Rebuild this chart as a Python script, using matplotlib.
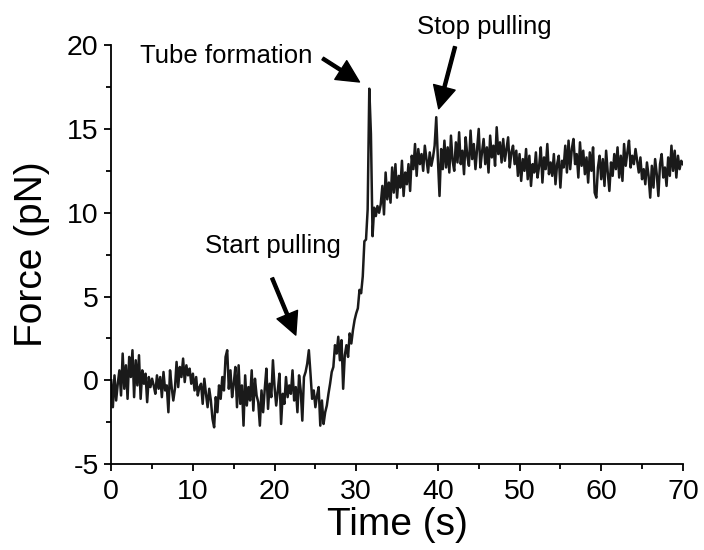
import numpy as np
import matplotlib.pyplot as plt
from matplotlib.ticker import MultipleLocator

plt.rcParams['font.family'] = ['Liberation Sans', 'DejaVu Sans']
plt.rcParams['axes.unicode_minus'] = False

# Force trace, one sample every 0.2 s from 0 to 70 s
dt = 0.2
force = [
    0.0, -1.6, 0.3, -1.2, -0.2, 0.6, -0.9, 1.6, -0.5, 0.9,
    -1.1, 1.4, 0.2, 1.8, -1.0, 1.2, -0.3, 1.5, -1.1, 0.6,
    -0.2, 0.4, -1.3, 0.2, -0.4, 0.1, -0.3, -0.8, 0.3, -0.5,
    0.2, -1.0, 0.5, -0.6, -0.3, -1.9, 0.6, -0.4, -1.2, -0.5,
    1.1, -0.4, 0.8, 0.2, 1.3, -0.1, 0.9, 0.3, 0.7, -0.2,
    0.4, -0.6, 0.2, -0.9, -0.4, -0.2, -1.4, 0.1, -0.8, -1.6,
    -0.5, -1.2, -2.3, -2.8, -1.0, -1.9, -0.3, -1.1, 0.2, -0.6,
    1.4, 1.8, -0.5, 0.6, -1.0, -0.2, 0.8, -1.6, 0.9, -1.4,
    -0.3, -2.7, 0.3, -1.5, -0.4, -1.2, 0.6, -1.8, 0.1, -0.9,
    -1.3, -2.7, -0.6, -1.9, -0.5, 0.7, -1.7, -0.2, -1.0, 1.2,
    -0.4, -1.5, -0.6, 0.4, -2.6, -0.8, -1.4, 0.2, -1.0, -0.3,
    -0.8, 0.6, -1.2, -0.4, -1.9, 0.3, -0.6, -2.4, 0.2, 0.5,
    1.0, 1.8, 0.4, -1.1, -0.6, -1.6, -0.9, -0.4, -2.7, -1.2,
    -2.6, -1.9, -1.5, -0.8, -0.2, 0.5, 0.8, 2.1, 1.6, 2.6,
    1.2, 2.4, -0.5, 1.5, 2.1, 1.4, 2.8, 2.2, 3.0, 3.6,
    4.0, 4.3, 5.4, 5.2, 6.2, 8.3, 8.4, 10.2, 17.4, 14.7,
    8.6, 10.3, 9.8, 10.4, 10.0, 10.5, 11.6, 9.9, 12.4, 10.8,
    11.8, 10.6, 12.7, 11.2, 12.9, 10.9, 12.2, 11.5, 13.1, 11.0,
    12.4, 11.7, 12.9, 11.3, 13.4, 12.6, 14.1, 12.2, 13.8, 12.9,
    13.5, 12.5, 14.0, 13.2, 12.4, 13.6, 12.8, 13.3, 14.0, 15.7,
    13.2, 11.0, 13.8, 12.6, 14.3, 12.7, 13.9, 12.4, 14.6, 13.1,
    12.5, 14.2, 13.0, 14.8, 12.9, 13.7, 12.3, 14.5, 13.4, 12.8,
    14.9, 13.2, 14.1, 12.6, 13.8, 15.0, 12.7, 13.6, 14.4, 12.9,
    13.9, 12.4, 14.6, 13.3, 14.0, 12.8, 15.1, 13.5, 14.2, 13.0,
    14.4, 13.1, 13.8, 14.5, 12.7, 13.6, 14.0, 12.9, 13.7, 12.2,
    13.5, 11.9, 13.2, 12.5, 13.8, 12.0, 13.4, 11.6, 12.9, 12.4,
    13.6, 12.1, 12.8, 13.9, 11.8, 13.3, 12.6, 14.1, 12.3, 13.0,
    12.2, 13.5, 11.7, 12.9, 13.4, 11.5, 13.1, 12.7, 14.0, 12.4,
    14.3, 12.6, 13.8, 14.4, 12.9, 13.5, 12.1, 14.2, 12.8, 13.7,
    12.3, 13.3, 11.8, 13.6, 12.5, 13.9, 11.2, 10.9, 12.7, 13.4,
    12.0, 13.2, 11.6, 13.7, 12.4, 11.3, 13.0, 12.2, 13.5, 12.6,
    13.9, 12.1, 13.4, 11.9, 14.1, 12.8, 13.6, 14.3, 12.7, 13.4,
    12.9, 13.8, 13.1, 12.4, 13.3, 12.0, 12.6, 11.7, 13.0, 12.2,
    10.9, 12.8, 11.5, 13.2, 12.3, 11.0, 12.9, 13.5, 12.1, 12.7,
    11.6, 13.3, 12.2, 14.0, 12.5, 13.7, 12.1, 13.4, 12.6, 13.1,
    12.9,
]
time = np.arange(len(force)) * dt

# annotations: label, text position, arrow tail, arrow tip (data coords)
labels = ["Tube formation", "Stop pulling", "Start pulling"]
text_pos = [(3.5, 19.35), (37.5, 21.1), (11.5, 8.0)]
arrow_tail = [(25.9, 19.2), (42.1, 19.9), (19.7, 6.1)]
arrow_tip = [(30.4, 17.8), (40.1, 16.2), (22.6, 2.7)]

fig = plt.figure(figsize=(7.04, 5.5), dpi=100)
ax = fig.add_axes([0.158, 0.156, 0.812, 0.762])

ax.plot(time, force, color='#1a1a1a', lw=1.8)

for lab, tp, tail, tip in zip(labels, text_pos, arrow_tail, arrow_tip):
    ax.text(tp[0], tp[1], lab, fontsize=18.5, va='center', ha='left')
    ax.annotate("", xy=tip, xytext=tail,
                arrowprops=dict(facecolor='black', edgecolor='black',
                                width=2.2, headwidth=16, headlength=16, shrink=0))

ax.set_xlim(0, 70)
ax.set_ylim(-5, 20)
ax.xaxis.set_major_locator(MultipleLocator(10))
ax.xaxis.set_minor_locator(MultipleLocator(5))
ax.yaxis.set_major_locator(MultipleLocator(5))
ax.yaxis.set_minor_locator(MultipleLocator(2.5))
ax.tick_params(which='major', direction='out', length=5, width=1.3, labelsize=20.5)
ax.tick_params(axis='x', which='major', pad=6)
ax.tick_params(axis='y', which='major', pad=4)
ax.tick_params(which='minor', direction='out', length=3.5, width=1.3)

for s in ['top', 'right']:
    ax.spines[s].set_visible(False)
for s in ['left', 'bottom']:
    ax.spines[s].set_linewidth(1.3)

ax.set_xlabel("Time (s)", fontsize=28, labelpad=1)
ax.set_ylabel("Force (pN)", fontsize=28, labelpad=12)

fig.savefig("out.png", dpi=100)
